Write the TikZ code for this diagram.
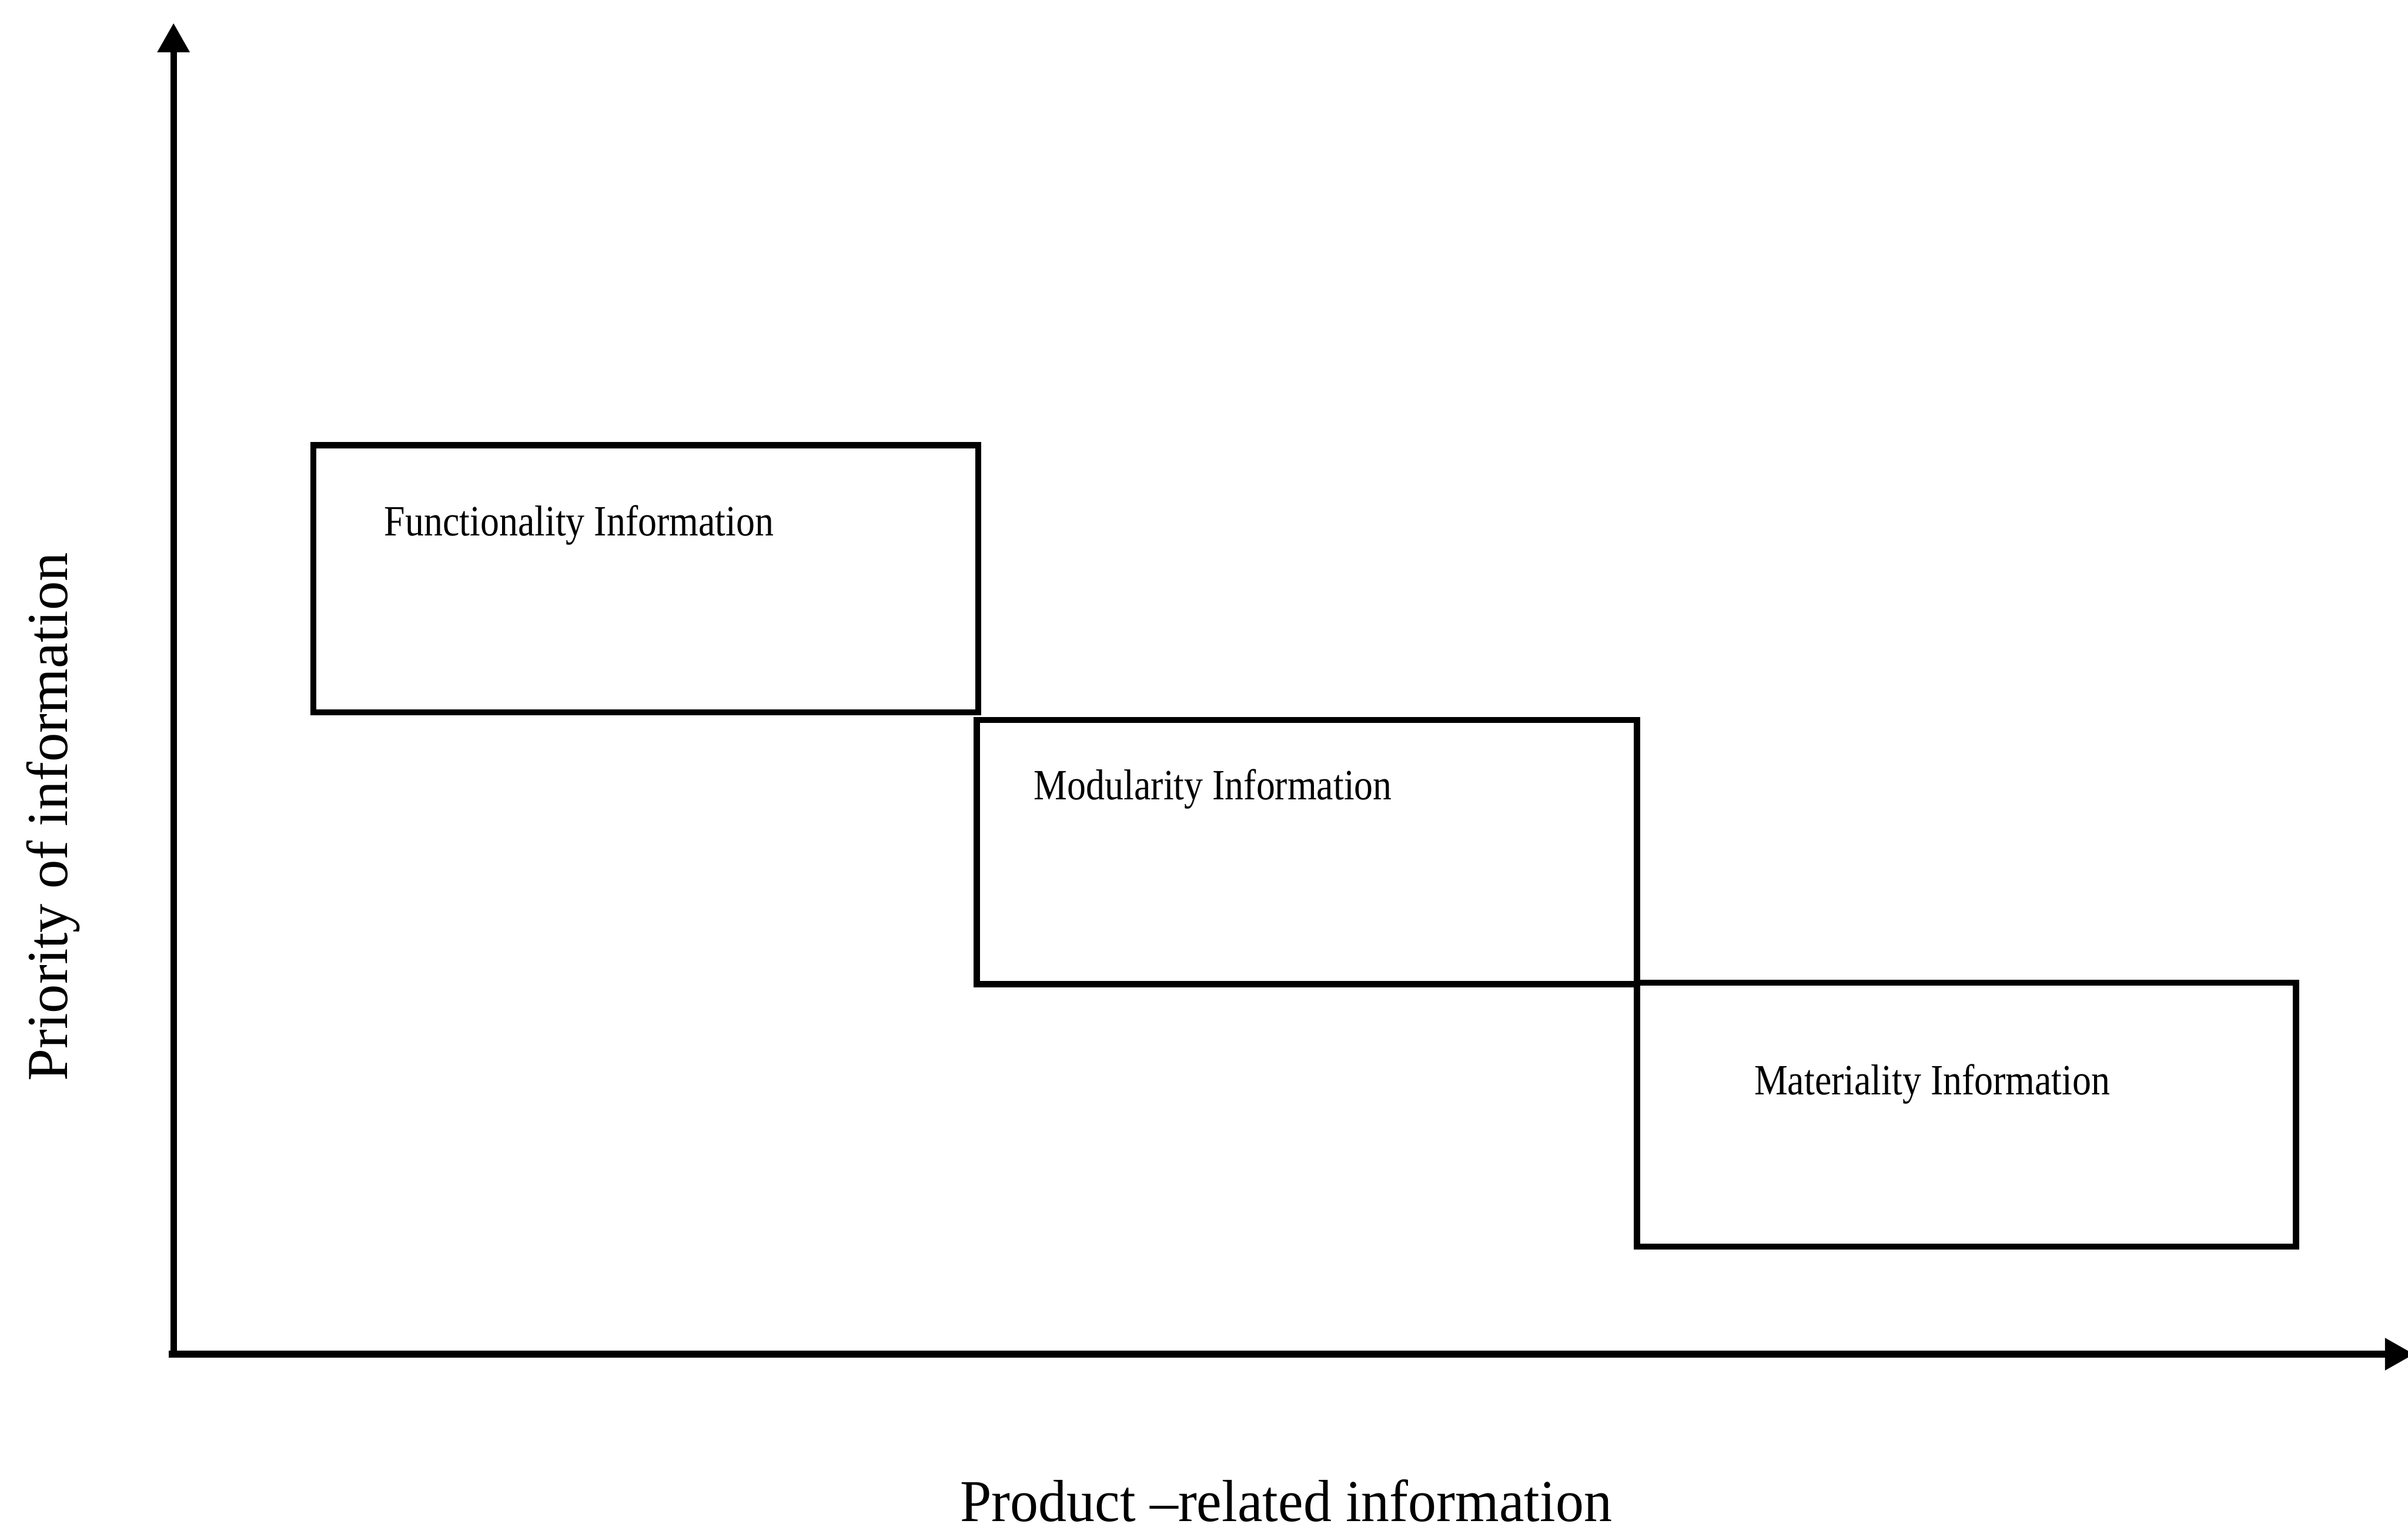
\documentclass[tikz,border=0pt]{standalone}
\usepackage{fontspec}
\setmainfont{Liberation Serif}
\newfontfamily\boxfont[FakeStretch=0.87]{Liberation Serif}
\newfontfamily\axfont[FakeStretch=0.95]{Liberation Serif}
\usetikzlibrary{arrows.meta}
\begin{document}
\begin{tikzpicture}[x=0.2mm,y=-0.2mm,
  axis/.style={line width=0.85mm,-{Triangle[width=4mm,length=3.8mm]}},
  infobox/.style={draw,line width=0.8mm,inner sep=0pt},
  boxlabel/.style={anchor=base west,inner sep=0pt,font=\boxfont\fontsize{16pt}{18pt}\selectfont},
  axlabel/.style={inner sep=0pt,font=\fontsize{21.5pt}{24pt}\selectfont}]
\useasboundingbox (0,0) rectangle (1568,999);
% axes
\coordinate (O) at (113,882);
\coordinate (Ytip) at (113,15);
\coordinate (Xstart) at (110,882);
\coordinate (Xtip) at (1572,882);
\draw[axis] (O) -- (Ytip);
\draw[axis] (Xstart) -- (Xtip);
% boxes
\node[infobox,anchor=north west,minimum width=86.6mm,minimum height=34.8mm] (func) at (202,288) {};
\node[infobox,anchor=north west,minimum width=86mm,minimum height=34.4mm] (modu) at (634,467) {};
\node[infobox,anchor=north west,minimum width=85.8mm,minimum height=34.4mm] (mate) at (1064,638) {};
% box labels
\node[boxlabel] (funcT) at (250,349) {Functionality Information};
\node[boxlabel] (moduT) at (673,521) {Modularity Information};
\node[boxlabel] (mateT) at (1142,713) {Materiality Information};
% axis labels
\node[axlabel,anchor=base west,font=\axfont\fontsize{22pt}{24pt}\selectfont] (xlab) at (625,991) {Product –related information};
\node[axlabel,anchor=base,rotate=90] (ylab) at (44,532) {Priority of information};
\end{tikzpicture}
\end{document}
